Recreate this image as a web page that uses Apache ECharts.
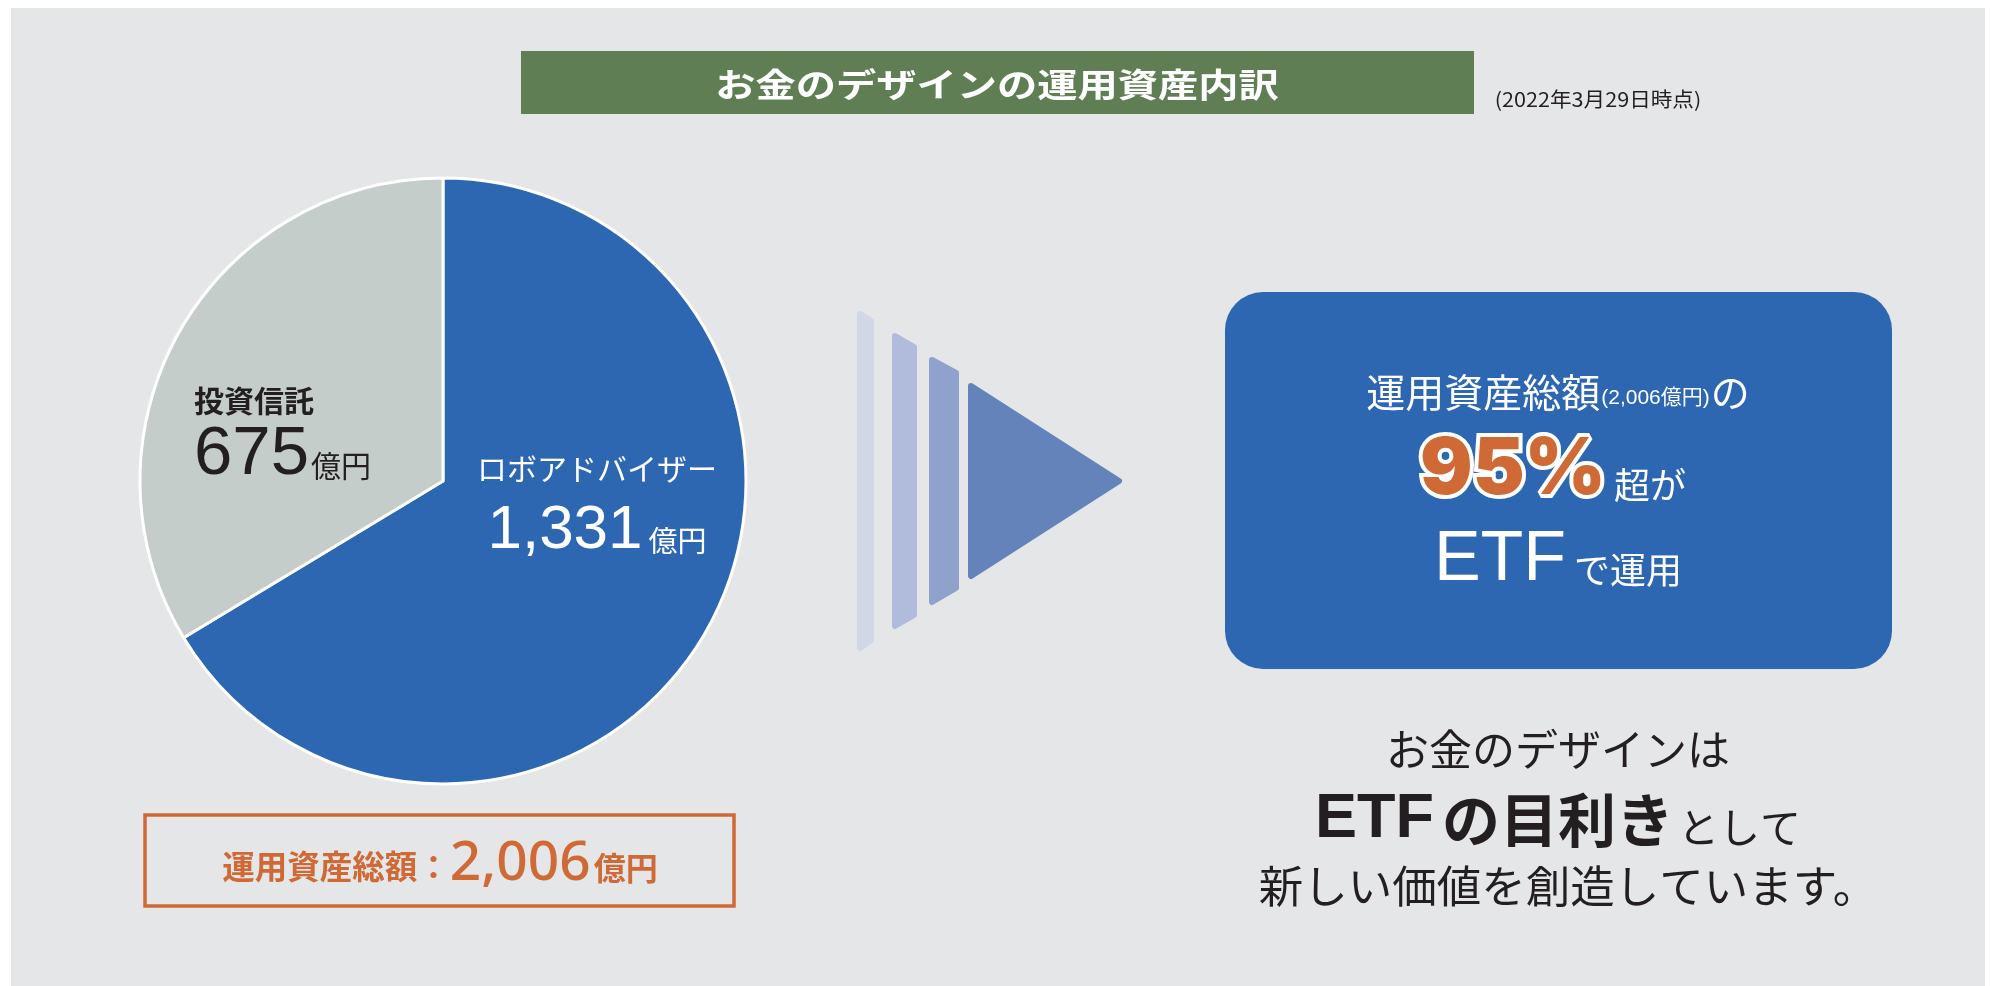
<!DOCTYPE html>
<html><head><meta charset="utf-8">
<script src="https://cdn.jsdelivr.net/npm/echarts@6/dist/echarts.min.js"></script>
<style>html,body{margin:0;padding:0;background:#fff;}#c{width:1991px;height:986px;}</style>
</head><body><div id="c"></div>
<script>
// ---- data ----
const categories = ['ロボアドバイザー', '投資信託'];
const values = [1331, 675];
const unitLabel = '億円';
const etfShare = 95;
const titleText = 'お金のデザインの運用資産内訳';
const asOfText = '(2022年3月29日時点)';
const totalLabel = '運用資産総額';
const messageLines = ['お金のデザインは', 'ETFの目利き', 'として', '新しい価値を創造しています。'];

// ---- styles ----
const CJK = '"Noto Sans CJK JP", sans-serif';
const LAT = '"Liberation Sans", "Noto Sans CJK JP", sans-serif';
const BLUE = '#2d67b2', GREY = '#c4cdca', ORANGE = '#cf6a36', DARK = '#231f20', GREEN = '#5f7e54';
const sliceColors = [BLUE, GREY];

const total = values.reduce((a, b) => a + b, 0);
const fmt = v => v.toLocaleString('en-US');

const chart = echarts.init(document.getElementById('c'), null, {renderer: 'canvas'});

const labelStyles = [
  { // robo advisor (white)
    formatter: p => '{n|' + p.name + '}\n{v|' + fmt(p.value) + '}{u|' + unitLabel + '}',
    align: 'center',
    rich: {
      n: {fontSize: 30, fontFamily: CJK, color: '#fff', lineHeight: 59, verticalAlign: 'middle'},
      v: {fontSize: 62, fontFamily: LAT, color: '#fff', lineHeight: 66, verticalAlign: 'middle'},
      u: {fontSize: 29, fontFamily: CJK, color: '#fff', lineHeight: 40, verticalAlign: 'middle', padding: [19, 0, 0, 6]}
    }
  },
  { // investment trust (dark)
    formatter: p => '{n|' + p.name + '}\n{v|' + fmt(p.value) + '}{u|' + unitLabel + '}',
    align: 'left',
    rich: {
      n: {fontSize: 30, fontFamily: CJK, fontWeight: 'bold', color: DARK, lineHeight: 36, verticalAlign: 'middle'},
      v: {fontSize: 69, fontFamily: LAT, color: DARK, lineHeight: 72, verticalAlign: 'middle'},
      u: {fontSize: 30, fontFamily: CJK, color: DARK, lineHeight: 40, verticalAlign: 'middle', padding: [22, 0, 0, 2]}
    }
  }
];
const labelPos = [
  {x: 597, y: 439, align: 'center', verticalAlign: 'top'},
  {x: 194, y: 383, align: 'left', verticalAlign: 'top'}
];

const arrowShapes = [
  {pts: [[860, 314], [871, 321], [871, 640], [860, 648]], c: '#d1d7e7'},
  {pts: [[895, 336], [914, 347], [914, 615], [895, 626]], c: '#b1bbdb'},
  {pts: [[932, 360], [956, 373], [956, 588], [932, 602]], c: '#8fa2cc'},
  {pts: [[971, 386], [1119, 481], [971, 576]], c: '#6483bb'}
];

const graphics = [
  {type: 'rect', z: -10, shape: {x: 11, y: 8, width: 1974, height: 978}, style: {fill: '#e5e6e8'}},
  {type: 'rect', z: 1, shape: {x: 521, y: 51, width: 953, height: 63}, style: {fill: GREEN}},
  {type: 'text', z: 10, x: 997, y: 84, scaleX: 1.22,
    style: {text: titleText, fill: '#fff', fontSize: 33, fontWeight: 'bold', fontFamily: CJK, align: 'center', verticalAlign: 'middle'}},
  {type: 'text', z: 10, x: 1598, y: 99, scaleX: 1.08,
    style: {text: asOfText, fill: DARK, fontSize: 20, fontFamily: CJK, align: 'center', verticalAlign: 'middle'}},
  // total box
  {type: 'rect', z: 1, shape: {x: 145, y: 815, width: 589, height: 91}, style: {fill: 'none', stroke: ORANGE, lineWidth: 3.5}},
  {type: 'text', z: 10, x: 440, y: 864,
    style: {text: '{a|' + totalLabel + '：}{b|' + fmt(total) + '}{c|' + unitLabel + '}', align: 'center', verticalAlign: 'middle',
      rich: {
        a: {fill: ORANGE, fontSize: 32.5, fontWeight: 'bold', fontFamily: CJK, verticalAlign: 'middle', padding: [6, 0, 0, 0]},
        b: {fill: ORANGE, fontSize: 55, fontFamily: '"Noto Sans", sans-serif', fontWeight: 500, verticalAlign: 'middle', lineHeight: 60},
        c: {fill: ORANGE, fontSize: 32, fontWeight: 'bold', fontFamily: CJK, verticalAlign: 'middle', padding: [8, 0, 0, 3]}
      }}},
  // blue box
  {type: 'rect', z: 1, shape: {x: 1225, y: 292, width: 667, height: 377, r: 38}, style: {fill: BLUE}},
  {type: 'text', z: 10, x: 1558, y: 392,
    style: {text: '{a|運用資産総額}{b|(' + fmt(total) + unitLabel + ')}{a|の}', align: 'center', verticalAlign: 'middle',
      rich: {
        a: {fill: '#fff', fontSize: 39, fontFamily: CJK, verticalAlign: 'middle', lineHeight: 46},
        b: {fill: '#fff', fontSize: 21, fontFamily: LAT, verticalAlign: 'middle', padding: [12, 1, 0, 1]}
      }}},
  {type: 'text', z: 10, x: 1553, y: 471,
    style: {text: '{p|' + etfShare + '%}{s|超が}', align: 'center', verticalAlign: 'middle',
      rich: {
        p: {fill: ORANGE, stroke: '#fff', lineWidth: 8, fontSize: 78, fontWeight: 900, fontFamily: 'Inter, "Noto Sans", sans-serif', verticalAlign: 'middle', lineHeight: 90},
        s: {fill: '#fff', fontSize: 36, fontFamily: CJK, verticalAlign: 'middle', padding: [28, 0, 0, 8]}
      }}},
  {type: 'text', z: 10, x: 1558, y: 561,
    style: {text: '{e|ETF}{s|で運用}', align: 'center', verticalAlign: 'middle',
      rich: {
        e: {fill: '#fff', fontSize: 70, fontFamily: LAT, verticalAlign: 'middle', lineHeight: 80},
        s: {fill: '#fff', fontSize: 36, fontFamily: CJK, verticalAlign: 'middle', padding: [18, 0, 0, 8]}
      }}},
  // message
  {type: 'text', z: 10, x: 1558, y: 750,
    style: {text: messageLines[0], fill: DARK, fontSize: 43, fontFamily: CJK, align: 'center', verticalAlign: 'middle'}},
  {type: 'text', z: 10, x: 1558, y: 820,
    style: {text: '{e|' + messageLines[1].slice(0, 3) + '}{k|' + messageLines[1].slice(3) + '}{t|' + messageLines[2] + '}', align: 'center', verticalAlign: 'middle',
      rich: {
        e: {fill: DARK, fontSize: 63, fontWeight: 'bold', fontFamily: LAT, verticalAlign: 'middle', lineHeight: 70, padding: [0, 8, 0, 0]},
        k: {fill: DARK, fontSize: 58, fontWeight: 'bold', fontFamily: CJK, verticalAlign: 'middle', lineHeight: 70},
        t: {fill: DARK, fontSize: 41, fontFamily: CJK, verticalAlign: 'middle', padding: [14, 0, 0, 4]}
      }}},
  {type: 'text', z: 10, x: 1568, y: 886,
    style: {text: messageLines[3], fill: DARK, fontSize: 44.5, fontFamily: CJK, align: 'center', verticalAlign: 'middle'}}
];
arrowShapes.forEach(a => graphics.push({
  type: 'polygon', z: 1, shape: {points: a.pts},
  style: {fill: a.c, stroke: a.c, lineWidth: 6, lineJoin: 'round'}
}));

chart.setOption({
  backgroundColor: '#ffffff',
  animation: false,
  graphic: {elements: graphics},
  series: [{
    type: 'pie',
    silent: true,
    center: [443, 481],
    radius: [0, 303],
    startAngle: 90,
    clockwise: true,
    itemStyle: {borderColor: '#ffffff', borderWidth: 3},
    labelLine: {show: false},
    data: categories.map((n, i) => ({
      name: n, value: values[i],
      itemStyle: {color: sliceColors[i]},
      label: Object.assign({show: true, position: 'inside'}, labelStyles[i])
    })),
    labelLayout: p => labelPos[p.dataIndex]
  }]
});
</script></body></html>
